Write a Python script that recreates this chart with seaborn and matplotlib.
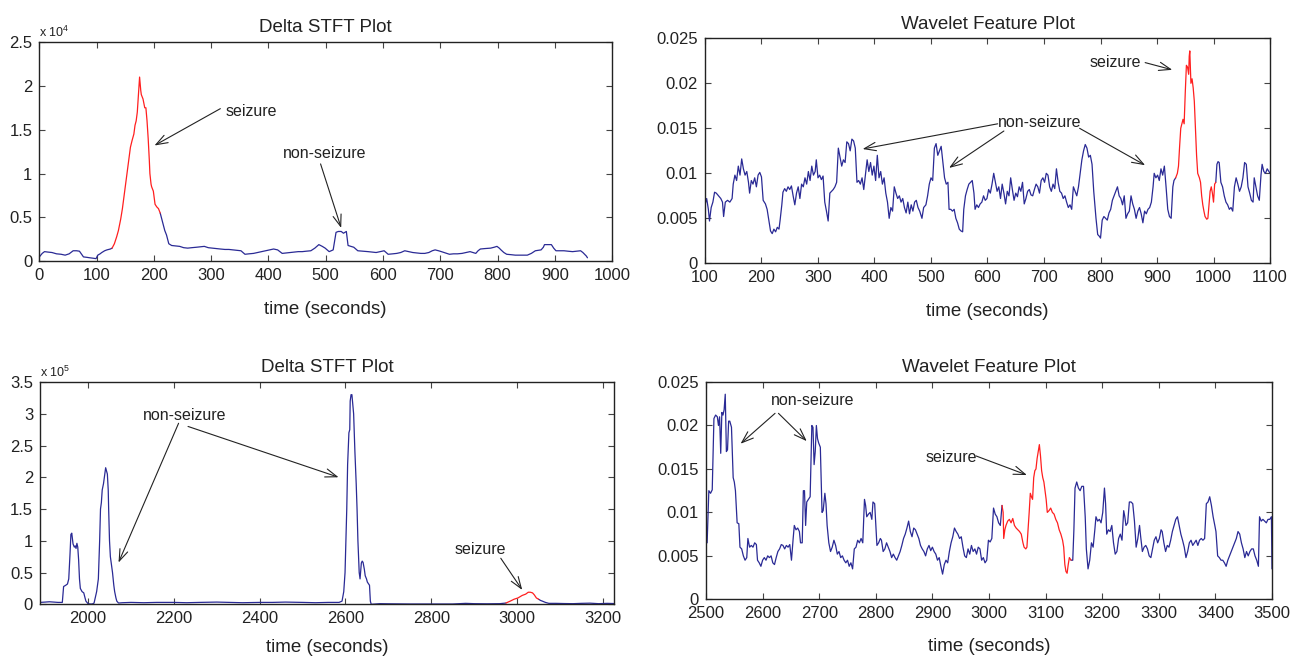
import numpy as np
import matplotlib
matplotlib.use("Agg")
import matplotlib.pyplot as plt
from matplotlib.ticker import FuncFormatter
import seaborn as sns

# ---------------- data ----------------
# Top-left: Delta STFT (raw units, axis shown x 10^4)
stft1_t = [0, 5, 9, 15, 22, 30, 38, 45, 52, 59, 65, 70, 77, 83, 88, 94, 99, 102, 106, 109, 114, 118, 124, 127,
           131, 135, 138, 142, 145, 148, 151, 154, 156, 159, 162, 165, 167, 169, 171, 173, 175, 177, 178, 181, 184,
           186, 188, 190, 192, 193, 195, 196, 199, 202, 205, 208, 211,
           215, 219, 222, 226, 231, 238, 245, 252, 259, 266, 274, 281, 288, 295, 302, 309, 316, 324, 331, 338, 345,
           352, 359, 366, 374, 381, 388, 395, 402, 409, 416, 424, 431, 438, 445, 452, 459, 466, 474, 481, 488, 494,
           499, 506, 513, 518, 522, 527, 531, 536, 539, 544, 549, 556, 565, 574, 581, 588, 595, 602, 609, 617, 624,
           631, 638, 645, 652, 659, 666, 673, 680, 686, 691, 697, 702, 709, 716, 723, 730, 738, 745, 752, 757, 762,
           766, 770, 778, 788, 794, 799, 803, 806, 811, 816, 824, 831, 838, 845, 852, 859, 866, 871, 876, 880, 882,
           888, 894, 898, 902, 909, 916, 923, 931, 938, 945, 949, 952, 955, 957]
stft1_v = [500, 900, 1100, 1050, 1000, 850, 800, 700, 850, 1200, 1200, 1150, 500, 450, 400, 350, 300, 700, 850, 1000,
           1200, 1300, 1400, 1500,
           2000, 2800, 3500, 4800, 6000, 7500, 9000, 10500, 11500, 13000, 13800, 14500, 15500, 16000, 17000, 19000,
           21000, 19500, 19000, 18500, 17500, 17500, 16000, 14000, 11500, 10000, 8800, 8500, 8000, 6500, 6200, 6000,
           5500,
           4500, 3500, 3000, 2000, 1800, 1750, 1700, 1550, 1500, 1550, 1600, 1650, 1700, 1550, 1500, 1450, 1400, 1350,
           1350, 1300, 1250, 1200, 800, 850, 900, 1000, 1100, 1200, 1300, 1400, 1300, 900, 950, 1000, 1050, 1100, 1100,
           1150, 1200, 1500, 1900, 1700, 1500, 1100, 1300, 3300, 3400, 3400, 3200, 3400, 1800, 1700, 1600, 1200, 1150,
           1100, 1050, 1000, 1100, 1200, 800, 850, 900, 1000, 1200, 1100, 1000, 950, 900, 900, 1000, 1200, 1300, 1200,
           1100, 950, 800, 850, 850, 900, 1000, 1100, 1000, 900, 1200, 1400, 1450, 1500, 1600, 1700, 1500, 1300, 1000,
           800, 750, 700, 700, 700, 700, 900, 1200, 1250, 1300, 1600, 1900, 1900, 1900, 1500, 1200, 1200, 1200, 1150,
           1100, 1150, 1200, 1000, 800, 600, 400]
stft1_seizure = (127, 211)

# Top-right: Wavelet feature
wav1_t = [100, 103, 106, 108, 111, 114, 117, 120, 124, 128, 131, 133, 136, 140, 144, 148, 150, 153, 156, 159, 162, 165,
          168, 171, 174, 177, 179, 182, 185, 188, 191, 194, 197, 200, 203, 207, 210, 213, 216, 219, 222, 225, 228, 231,
          233, 236, 238, 241, 244, 247, 250, 253, 256, 259, 262, 265, 268, 271, 274, 277, 280, 283, 286, 289, 292, 295,
          297, 300, 303, 306, 309, 312, 315, 318, 321, 324, 327, 330, 333, 336, 339, 342, 345, 348, 351, 354, 357, 360,
          363, 366, 369, 372, 375, 378, 381, 384, 387, 390, 393, 396, 399, 402, 405, 408, 411, 414, 417, 420, 423, 426,
          429, 432, 435, 438, 441, 444, 447, 450, 453, 456, 459, 462, 465, 468, 471, 474, 477, 480, 484, 487, 491, 494,
          497, 500, 503, 506, 509, 512, 515, 518, 521, 524, 527, 530, 532, 535, 538, 541, 544, 547, 550, 553, 556, 558,
          561, 564, 567, 570, 573, 576, 578, 581, 584, 587, 590, 593, 596, 599, 602, 605, 608, 611, 614, 617, 620, 623,
          626, 629, 632, 635, 638, 641, 644, 647, 650, 653, 656, 659, 662, 665, 668, 671, 674, 677, 680, 683, 686, 689,
          692, 695, 698, 701, 704, 707, 710, 713, 716, 719, 722, 725, 728, 731, 734, 737, 740, 743, 746, 749, 752, 755,
          758, 761, 764, 767, 770, 773, 776, 779, 782, 785, 788, 790, 792, 795, 798, 800, 803, 806, 809, 812, 815, 818,
          821, 824, 827, 830, 833, 836, 839, 842, 845, 848, 851, 854, 857, 860, 863, 866, 869, 872, 875, 878, 881, 884,
          887, 890, 893, 895, 898, 901, 904, 907, 910, 913, 916, 919, 922, 925, 928, 930, 933,
          936, 938, 940, 942, 944, 946, 948, 950, 952, 954, 956, 957, 958, 960, 962, 964, 966, 968, 970, 972, 975, 977,
          979, 981, 983, 985, 988, 990, 992, 994, 996, 998, 1000, 1002, 1004,
          1006, 1008, 1010, 1013, 1016, 1019, 1022, 1025, 1028, 1031, 1034, 1037, 1040, 1043, 1046, 1049, 1052, 1055,
          1058, 1061, 1064, 1067, 1070, 1072, 1075, 1078, 1081, 1084, 1086, 1089, 1092, 1095, 1098, 1100]
wav1_v = [0.0065, 0.0072, 0.0060, 0.0047, 0.0062, 0.0068, 0.0079, 0.0078, 0.0075, 0.0072, 0.0068, 0.0052, 0.0068,
          0.0070, 0.0068, 0.0072, 0.0088, 0.0098, 0.0092, 0.0108, 0.0098, 0.0116, 0.0105, 0.0098, 0.0102, 0.0090,
          0.0078, 0.0092, 0.0088, 0.0095, 0.0085, 0.0098, 0.0101, 0.0096, 0.0070, 0.0066, 0.0060, 0.0048, 0.0036,
          0.0033, 0.0038, 0.0035, 0.0040, 0.0038, 0.0048, 0.0065, 0.0079, 0.0083, 0.0080, 0.0085, 0.0082, 0.0086,
          0.0075, 0.0065, 0.0078, 0.0085, 0.0072, 0.0088, 0.0085, 0.0095, 0.0088, 0.0102, 0.0092, 0.0108, 0.0098,
          0.0102, 0.0115, 0.0095, 0.0098, 0.0093, 0.0097, 0.0068, 0.0058, 0.0047, 0.0078, 0.0080, 0.0082, 0.0085,
          0.0090, 0.0128, 0.0118, 0.0108, 0.0115, 0.0112, 0.0135, 0.0133, 0.0125, 0.0138, 0.0136, 0.0128, 0.0090,
          0.0092, 0.0088, 0.0095, 0.0082, 0.0098, 0.0115, 0.0102, 0.0112, 0.0098, 0.0108, 0.0092, 0.0120, 0.0095,
          0.0102, 0.0088, 0.0095, 0.0078, 0.0068, 0.0050, 0.0062, 0.0058, 0.0085, 0.0078, 0.0072, 0.0075, 0.0068,
          0.0072, 0.0062, 0.0056, 0.0068, 0.0055, 0.0065, 0.0058, 0.0068, 0.0070, 0.0062, 0.0058, 0.0050, 0.0062,
          0.0065, 0.0075, 0.0088, 0.0095, 0.0092, 0.0128, 0.0133, 0.0120, 0.0125, 0.0130, 0.0112, 0.0095, 0.0088,
          0.0090, 0.0060, 0.0060, 0.0058, 0.0060, 0.0050, 0.0045, 0.0038, 0.0036, 0.0035, 0.0060, 0.0075, 0.0082,
          0.0088, 0.0090, 0.0092, 0.0078, 0.0060, 0.0065, 0.0062, 0.0066, 0.0068, 0.0075, 0.0070, 0.0072, 0.0082,
          0.0078, 0.0088, 0.0100, 0.0090, 0.0080, 0.0085, 0.0072, 0.0088, 0.0078, 0.0066, 0.0080, 0.0075, 0.0095,
          0.0082, 0.0070, 0.0078, 0.0074, 0.0085, 0.0080, 0.0090, 0.0066, 0.0072, 0.0080, 0.0082, 0.0076, 0.0075,
          0.0082, 0.0088, 0.0085, 0.0078, 0.0092, 0.0095, 0.0090, 0.0100, 0.0098, 0.0085, 0.0080, 0.0088, 0.0083,
          0.0105, 0.0090, 0.0080, 0.0078, 0.0072, 0.0075, 0.0068, 0.0062, 0.0065, 0.0060, 0.0085, 0.0080, 0.0075,
          0.0085, 0.0100, 0.0115, 0.0125, 0.0132, 0.0128, 0.0118, 0.0120, 0.0110, 0.0080, 0.0065, 0.0050, 0.0032,
          0.0030, 0.0028, 0.0048, 0.0052, 0.0050, 0.0048, 0.0056, 0.0060, 0.0070, 0.0075, 0.0080, 0.0085, 0.0075,
          0.0072, 0.0065, 0.0075, 0.0050, 0.0055, 0.0058, 0.0075, 0.0066, 0.0060, 0.0050, 0.0058, 0.0062, 0.0055,
          0.0045, 0.0058, 0.0055, 0.0060, 0.0062, 0.0068, 0.0085, 0.0100, 0.0095, 0.0098, 0.0092, 0.0105, 0.0098,
          0.0108, 0.0085, 0.0060, 0.0052, 0.0050, 0.0085, 0.0092, 0.0095,
          0.0100, 0.0108, 0.0130, 0.0150, 0.0155, 0.0160, 0.0155, 0.0190, 0.0220, 0.0218, 0.0210, 0.0230, 0.0236,
          0.0200, 0.0205, 0.0195, 0.0180, 0.0150, 0.0120, 0.0100, 0.0095, 0.0090, 0.0075, 0.0065, 0.0058, 0.0052,
          0.0049, 0.0050, 0.0065, 0.0080, 0.0085, 0.0078, 0.0068, 0.0088, 0.0090,
          0.0110, 0.0113, 0.0112, 0.0090, 0.0085, 0.0075, 0.0068, 0.0065, 0.0060, 0.0062, 0.0058, 0.0085, 0.0095,
          0.0088, 0.0080, 0.0085, 0.0095, 0.0112, 0.0110, 0.0085, 0.0078, 0.0070, 0.0068, 0.0095, 0.0085, 0.0075,
          0.0070, 0.0098, 0.0110, 0.0102, 0.0100, 0.0105, 0.0102, 0.0100]
wav1_seizure = (933, 1004)

# Bottom-left: Delta STFT (raw units, axis shown x 10^5)
stft2_t = [1888, 1900, 1910, 1920, 1930, 1940, 1943, 1948, 1952, 1955, 1958, 1960, 1962, 1965, 1968, 1970, 1972, 1974,
           1976, 1978, 1980, 1982, 1986, 1990, 1993, 1995, 2000, 2005, 2010, 2014, 2016, 2020, 2024, 2027, 2029, 2031,
           2033, 2036, 2038, 2041, 2043, 2045, 2047, 2048, 2050, 2052, 2055, 2057, 2060, 2062, 2065, 2067, 2071, 2080,
           2100, 2130, 2160, 2200, 2230, 2260, 2300, 2330, 2360, 2400, 2430, 2460, 2500, 2530, 2560, 2585, 2592, 2596,
           2599, 2601, 2603, 2605, 2608, 2610, 2611, 2613, 2615, 2617, 2619, 2621, 2622, 2625, 2627, 2629, 2632, 2634,
           2637, 2639, 2641, 2644, 2646, 2649, 2651, 2654, 2656, 2658, 2660, 2680, 2700, 2750, 2800, 2850, 2880, 2900,
           2930, 2960, 2974, 2984, 2993, 3002, 3012, 3020, 3026, 3031, 3036, 3040, 3045, 3050, 3055, 3059, 3066, 3074,
           3090, 3110, 3130, 3150, 3170, 3190, 3210, 3226]
stft2_v = [3000, 3500, 4000, 3500, 3000, 3000, 28000, 30000, 32000, 40000, 80000, 110000, 112000, 95000, 90000, 92000,
           88000, 96000, 90000, 70000, 40000, 25000, 20000, 18000, 10000, 5000, 1000, 500, 500, 2000, 8000, 20000,
           40000, 100000, 150000, 160000, 180000, 190000, 200000, 215000, 210000, 205000, 180000, 150000, 100000,
           75000, 60000, 50000, 30000, 20000, 10000, 5000, 2000, 2500, 3000, 2500, 3000, 3000, 2500, 3000, 3500, 3000,
           2500, 3000, 3000, 3500, 3000, 2500, 3000, 3000, 5000, 20000, 50000, 100000, 150000, 220000, 270000, 275000,
           320000, 330000, 330000, 315000, 300000, 260000, 240000, 190000, 150000, 100000, 50000, 40000, 65000, 68000,
           66000, 55000, 45000, 40000, 35000, 32000, 30000, 5000, 0, 1000, 800, 500, 500, 500, 1500, 1000, 800, 1000,
           2000, 5000, 8000, 10000, 14000, 16000, 19000, 19000, 18000, 15000, 10000, 8000, 6000, 5000, 3000, 1500,
           1500, 1200, 1000, 1500, 1800, 1000, 1500, 1200]
stft2_seizure = (2974, 3050)

# Bottom-right: Wavelet feature
wav2_t = [2500, 2502, 2505, 2508, 2511, 2514, 2517, 2520, 2522, 2524, 2526, 2528, 2530, 2532, 2534, 2536, 2538, 2540,
          2542, 2545, 2548, 2550, 2552, 2555, 2558, 2560, 2563, 2566, 2569, 2572, 2574, 2577, 2580, 2583, 2586, 2589,
          2591, 2594, 2597, 2600, 2603, 2606, 2609, 2612, 2615, 2618, 2621, 2624, 2627, 2630, 2633, 2636, 2639, 2642,
          2645, 2648, 2651, 2654, 2656, 2659, 2662, 2665, 2667, 2670, 2672, 2674, 2676, 2678, 2681, 2684, 2687, 2689,
          2691, 2693, 2695, 2697, 2699, 2702, 2705, 2707, 2710, 2712, 2714, 2717, 2720, 2723, 2726, 2729, 2732, 2735,
          2738, 2741, 2744, 2747, 2750, 2753, 2756, 2759, 2762, 2765, 2768, 2771, 2774, 2777, 2780, 2782, 2784, 2787,
          2790, 2793, 2795, 2798, 2800, 2802, 2805, 2808, 2810, 2813, 2816, 2819, 2822, 2825, 2828, 2831, 2834, 2837,
          2840, 2843, 2846, 2849, 2852, 2855, 2858, 2861, 2864, 2867, 2870, 2873, 2876, 2879, 2882, 2885, 2888, 2891,
          2894, 2897, 2900, 2903, 2906, 2909, 2912, 2915, 2918, 2921, 2924, 2927, 2930, 2933, 2936, 2939, 2942, 2945,
          2948, 2951, 2954, 2957, 2960, 2963, 2966, 2969, 2972, 2975, 2978, 2981, 2984, 2987, 2990, 2993, 2996, 2999,
          3002, 3005, 3008, 3011, 3014, 3017, 3020, 3023,
          3025, 3026, 3028, 3030, 3033, 3036, 3039, 3042, 3045, 3048, 3051, 3054, 3057, 3060, 3062, 3065, 3067, 3069,
          3071, 3073, 3075, 3077, 3079, 3081, 3083, 3085, 3087, 3089, 3091, 3093, 3095, 3097, 3099, 3101, 3103, 3106,
          3109, 3112, 3115, 3118, 3121, 3124, 3127, 3130, 3132, 3134, 3136, 3138, 3140, 3142, 3145,
          3148, 3150, 3152, 3155, 3158, 3161, 3164, 3167, 3170, 3172, 3175, 3178, 3181, 3184, 3187, 3189, 3192, 3195,
          3198, 3201, 3204, 3206, 3208, 3211, 3214, 3217, 3220, 3223, 3226, 3229, 3232, 3235, 3238, 3240, 3242, 3245,
          3248, 3251, 3254, 3257, 3260, 3263, 3266, 3268, 3271, 3274, 3277, 3280, 3283, 3286, 3289, 3292, 3295, 3298,
          3301, 3304, 3306, 3309, 3312, 3315, 3318, 3321, 3324, 3327, 3330, 3333, 3336, 3339, 3342, 3345, 3348, 3351,
          3354, 3357, 3360, 3363, 3366, 3369, 3372, 3375, 3378, 3381, 3384, 3387, 3390, 3393, 3396, 3399, 3401, 3404,
          3407, 3410, 3413, 3416, 3419, 3422, 3425, 3428, 3431, 3434, 3437, 3440, 3443, 3446, 3449, 3452, 3455, 3458,
          3461, 3464, 3467, 3470, 3473, 3476, 3478, 3481, 3484, 3487, 3490, 3493, 3496, 3499, 3500]
wav2_v = [0.0075, 0.0065, 0.0125, 0.0122, 0.0126, 0.0208, 0.0212, 0.0210, 0.0200, 0.0210, 0.0168, 0.0215, 0.0212,
          0.0218, 0.0236, 0.0170, 0.0172, 0.0205, 0.0205, 0.0198, 0.0140, 0.0135, 0.0125, 0.0088, 0.0087, 0.0060,
          0.0058, 0.0050, 0.0045, 0.0048, 0.0070, 0.0060, 0.0062, 0.0060, 0.0065, 0.0063, 0.0045, 0.0042, 0.0038,
          0.0045, 0.0048, 0.0045, 0.0050, 0.0048, 0.0050, 0.0042, 0.0040, 0.0048, 0.0055, 0.0058, 0.0063, 0.0062,
          0.0058, 0.0062, 0.0060, 0.0063, 0.0045, 0.0070, 0.0085, 0.0080, 0.0082, 0.0078, 0.0065, 0.0065, 0.0125,
          0.0125, 0.0085, 0.0112, 0.0115, 0.0118, 0.0200, 0.0198, 0.0155, 0.0170, 0.0200, 0.0185, 0.0180, 0.0175,
          0.0100, 0.0102, 0.0122, 0.0110, 0.0085, 0.0065, 0.0055, 0.0060, 0.0068, 0.0062, 0.0052, 0.0055, 0.0048,
          0.0050, 0.0045, 0.0042, 0.0045, 0.0038, 0.0042, 0.0035, 0.0058, 0.0060, 0.0068, 0.0065, 0.0070, 0.0065,
          0.0115, 0.0108, 0.0095, 0.0098, 0.0100, 0.0092, 0.0112, 0.0110, 0.0085, 0.0062, 0.0065, 0.0070, 0.0068,
          0.0055, 0.0058, 0.0065, 0.0060, 0.0055, 0.0048, 0.0052, 0.0048, 0.0045, 0.0050, 0.0055, 0.0062, 0.0070,
          0.0075, 0.0082, 0.0090, 0.0078, 0.0072, 0.0082, 0.0080, 0.0075, 0.0070, 0.0062, 0.0058, 0.0055, 0.0050,
          0.0058, 0.0062, 0.0056, 0.0060, 0.0055, 0.0052, 0.0045, 0.0048, 0.0038, 0.0029, 0.0040, 0.0045, 0.0042,
          0.0055, 0.0065, 0.0072, 0.0082, 0.0078, 0.0075, 0.0070, 0.0072, 0.0060, 0.0050, 0.0048, 0.0058, 0.0052,
          0.0062, 0.0055, 0.0058, 0.0052, 0.0060, 0.0058, 0.0045, 0.0048, 0.0042, 0.0045, 0.0068, 0.0066, 0.0070,
          0.0105, 0.0098, 0.0095, 0.0088, 0.0085, 0.0108,
          0.0100, 0.0070, 0.0080, 0.0085, 0.0090, 0.0092, 0.0088, 0.0093, 0.0085, 0.0082, 0.0080, 0.0078, 0.0075,
          0.0065, 0.0060, 0.0058, 0.0060, 0.0080, 0.0100, 0.0122, 0.0118, 0.0115, 0.0140, 0.0148, 0.0150, 0.0162,
          0.0170, 0.0178, 0.0165, 0.0148, 0.0140, 0.0135, 0.0125, 0.0115, 0.0100, 0.0102, 0.0105, 0.0100, 0.0098,
          0.0092, 0.0088, 0.0080, 0.0075, 0.0068, 0.0060, 0.0040, 0.0032, 0.0030, 0.0040, 0.0048, 0.0045,
          0.0045, 0.0080, 0.0128, 0.0135, 0.0128, 0.0125, 0.0130, 0.0130, 0.0095, 0.0058, 0.0035, 0.0045, 0.0065,
          0.0060, 0.0080, 0.0095, 0.0090, 0.0092, 0.0088, 0.0100, 0.0128, 0.0110, 0.0075, 0.0080, 0.0078, 0.0085,
          0.0065, 0.0052, 0.0055, 0.0070, 0.0075, 0.0068, 0.0102, 0.0095, 0.0085, 0.0088, 0.0112, 0.0112, 0.0110,
          0.0090, 0.0060, 0.0070, 0.0085, 0.0072, 0.0055, 0.0060, 0.0062, 0.0058, 0.0050, 0.0048, 0.0058, 0.0068,
          0.0072, 0.0065, 0.0070, 0.0080, 0.0078, 0.0065, 0.0055, 0.0062, 0.0060, 0.0068, 0.0078, 0.0085, 0.0092,
          0.0095, 0.0085, 0.0075, 0.0068, 0.0060, 0.0048, 0.0055, 0.0065, 0.0068, 0.0062, 0.0065, 0.0068, 0.0062,
          0.0068, 0.0070, 0.0068, 0.0070, 0.0110, 0.0112, 0.0118, 0.0108, 0.0095, 0.0085, 0.0078, 0.0050, 0.0048,
          0.0045, 0.0045, 0.0042, 0.0038, 0.0045, 0.0050, 0.0055, 0.0060, 0.0065, 0.0070, 0.0078, 0.0075, 0.0065,
          0.0058, 0.0048, 0.0055, 0.0050, 0.0055, 0.0058, 0.0058, 0.0050, 0.0045, 0.0038, 0.0095, 0.0090, 0.0092,
          0.0090, 0.0088, 0.0092, 0.0092, 0.0095, 0.0035]
wav2_seizure = (3023, 3145)

titles = ["Delta STFT Plot", "Wavelet Feature Plot", "Delta STFT Plot", "Wavelet Feature Plot"]
xlabel = "time (seconds)"

# ---------------- style ----------------
sns.set_theme(style="ticks")
plt.rcParams["font.family"] = ["Liberation Sans", "DejaVu Sans"]
plt.rcParams["mathtext.fontset"] = "custom"
plt.rcParams["mathtext.rm"] = "Liberation Sans"
plt.rcParams["mathtext.default"] = "regular"

BLUE = "#2a2a95"
RED = "#ff1f1f"
TXT = "#222222"

fig = plt.figure(figsize=(12.99, 6.57), dpi=100)
fig.patch.set_facecolor("white")

rects = [
    [0.0303, 0.6023, 0.4409, 0.3338],
    [0.5427, 0.5992, 0.4350, 0.3425],
    [0.0308, 0.0802, 0.4419, 0.3384],
    [0.5435, 0.0878, 0.4357, 0.3307],
]
axes = [fig.add_axes(r) for r in rects]


def draw(ax, t, v, window):
    t = np.asarray(t, dtype=float)
    v = np.asarray(v, dtype=float)
    s0, s1 = window
    pre = t <= s0
    sz = (t >= s0) & (t <= s1)
    post = t >= s1
    for m, c in [(pre, BLUE), (post, BLUE), (sz, RED)]:
        sns.lineplot(x=t[m], y=v[m], ax=ax, color=c, linewidth=0.9,
                     estimator=None, sort=False, legend=False)


def style(ax, title, xlim, xticks, ylim, yticks, scale=None, labelpad=13):
    ax.set_xlim(*xlim)
    ax.set_ylim(*ylim)
    ax.set_xticks(xticks)
    ax.set_yticks(yticks)
    if scale is None:
        ax.yaxis.set_major_formatter(FuncFormatter(lambda y, p: "%g" % round(y, 6)))
    else:
        ax.yaxis.set_major_formatter(FuncFormatter(lambda y, p: "%g" % round(y / scale, 6)))
    ax.xaxis.set_major_formatter(FuncFormatter(lambda x, p: "%g" % x))
    ax.tick_params(direction="in", length=4, width=0.8, color="#444444",
                   top=True, right=True, labelsize=12, labelcolor=TXT, pad=5)
    for s in ax.spines.values():
        s.set_visible(True)
        s.set_color("#222222")
        s.set_linewidth(1.0)
    ax.set_title(title, fontsize=13.5, color=TXT, pad=7)
    ax.set_xlabel(xlabel, fontsize=13.5, color=TXT, labelpad=labelpad)
    ax.set_ylabel("")
    ax.set_facecolor("white")


ax1, ax2, ax3, ax4 = axes
draw(ax1, stft1_t, stft1_v, stft1_seizure)
style(ax1, titles[0], (0, 1000), np.arange(0, 1001, 100), (0, 25000), np.arange(0, 25001, 5000), scale=1e4)
draw(ax2, wav1_t, wav1_v, wav1_seizure)
style(ax2, titles[1], (100, 1100), np.arange(100, 1101, 100), (0, 0.025), np.arange(0, 0.02501, 0.005))
draw(ax3, stft2_t, stft2_v, stft2_seizure)
style(ax3, titles[2], (1888, 3226), np.arange(2000, 3201, 200), (0, 350000), np.arange(0, 350001, 50000),
      scale=1e5, labelpad=9)
draw(ax4, wav2_t, wav2_v, wav2_seizure)
style(ax4, titles[3], (2500, 3500), np.arange(2500, 3501, 100), (0, 0.025), np.arange(0, 0.02501, 0.005),
      labelpad=12)

for ax, ex in [(ax1, 4), (ax3, 5)]:
    ax.text(0.0, 1.008, r"x $10^{%d}$" % ex, transform=ax.transAxes, ha="left", va="bottom",
            fontsize=9, color=TXT)

ARW = dict(arrowstyle="->,head_length=0.7,head_width=0.25", color="#222222", lw=0.8,
           shrinkA=0, shrinkB=0)
ANN = dict(fontsize=11.5, color=TXT, ha="center", va="center")

# top-left annotations
ax1.text(370, 17100, "seizure", **ANN)
ax1.annotate("", xy=(201, 13200), xytext=(316, 17400), arrowprops=ARW)
ax1.text(499, 12300, "non-seizure", **ANN)
ax1.annotate("", xy=(527, 3800), xytext=(491, 11100), arrowprops=ARW)

# top-right annotations
ax2.text(827, 0.0223, "seizure", **ANN)
ax2.annotate("", xy=(927, 0.0215), xytext=(879, 0.0223), arrowprops=ARW)
ax2.text(693, 0.0157, "non-seizure", **ANN)
ax2.annotate("", xy=(379, 0.0127), xytext=(618, 0.0155), arrowprops=ARW)
ax2.annotate("", xy=(532, 0.0106), xytext=(629, 0.0147), arrowprops=ARW)
ax2.annotate("", xy=(879, 0.0109), xytext=(763, 0.0150), arrowprops=ARW)

# bottom-left annotations
ax3.text(2225, 297000, "non-seizure", **ANN)
ax3.annotate("", xy=(2071, 65700), xytext=(2211, 285000), arrowprops=ARW)
ax3.annotate("", xy=(2584, 200000), xytext=(2233, 280000), arrowprops=ARW)
ax3.text(2915, 85700, "seizure", **ANN)
ax3.annotate("", xy=(3012, 22600), xytext=(2962, 72500), arrowprops=ARW)

# bottom-right annotations
ax4.text(2689, 0.0229, "non-seizure", **ANN)
ax4.annotate("", xy=(2561, 0.0179), xytext=(2622, 0.0214), arrowprops=ARW)
ax4.annotate("", xy=(2678, 0.0182), xytext=(2628, 0.0214), arrowprops=ARW)
ax4.text(2933, 0.0163, "seizure", **ANN)
ax4.annotate("", xy=(3067, 0.0143), xytext=(2977, 0.0165), arrowprops=ARW)

fig.savefig("out.png", dpi=100, facecolor="white")
